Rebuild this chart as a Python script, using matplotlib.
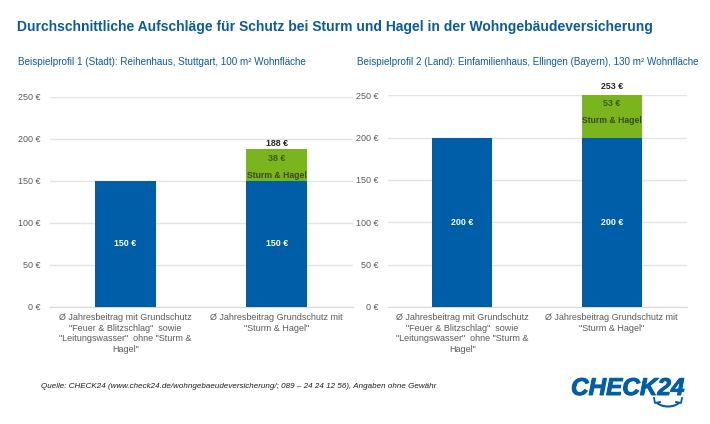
import matplotlib
matplotlib.use("Agg")
import matplotlib.pyplot as plt
import matplotlib.patheffects as pe
import numpy as np
from matplotlib.patches import Arc

plt.rcParams['font.family'] = ['Liberation Sans', 'DejaVu Sans']

W, H = 710, 424
BLUE = '#005EA8'
GREEN = '#7AB51D'
GRID = '#E4E4E4'
GREY = '#595959'
TITLE = '#0B5A9A'

title = 'Durchschnittliche Aufschläge für Schutz bei Sturm und Hagel in der Wohngebäudeversicherung'
sub1 = 'Beispielprofil 1 (Stadt): Reihenhaus, Stuttgart, 100 m² Wohnfläche'
sub2 = 'Beispielprofil 2 (Land): Einfamilienhaus, Ellingen (Bayern), 130 m² Wohnfläche'
source = 'Quelle: CHECK24 (www.check24.de/wohngebaeudeversicherung/; 089 – 24 24 12 56), Angaben ohne Gewähr'
categories = ['Ø Jahresbeitrag mit Grundschutz\n"Feuer & Blitzschlag"  sowie\n"Leitungswasser"  ohne "Sturm &\nHagel"',
              'Ø Jahresbeitrag Grundschutz mit\n"Sturm & Hagel"']
ticks = [0, 50, 100, 150, 200, 250]
base1 = [150, 150]
extra1 = [0, 38]
base2 = [200, 200]
extra2 = [0, 53]
extra_label = 'Sturm & Hagel'


def make_axes(x0, x1, y_top, y_zero):
    return fig.add_axes([x0 / W, 1 - y_zero / H, (x1 - x0) / W, (y_zero - y_top) / H])


def draw(ax, base, extra, total_off, value_off, label_off):
    x = np.arange(len(base))
    ax.bar(x, base, width=0.4, color=BLUE, zorder=3)
    ax.bar(x, extra, bottom=base, width=0.4, color=GREEN, zorder=3)
    ax.set_xlim(-0.5, 1.5)
    ax.set_ylim(0, 250)
    ax.set_yticks(ticks)
    ax.set_yticklabels([f'{t} €' for t in ticks], fontsize=6.5, color=GREY)
    ax.set_xticks(x)
    ax.set_xticklabels(categories, fontsize=6.45, color=GREY, linespacing=1.25)
    ax.tick_params(axis='both', length=0)
    ax.tick_params(axis='y', pad=6.5)
    ax.tick_params(axis='x', pad=4.3)
    ax.grid(axis='y', color=GRID, linewidth=1.0, zorder=0)
    for s in ['top', 'right', 'left']:
        ax.spines[s].set_visible(False)
    ax.spines['bottom'].set_color('#D9D9D9')
    for i, (b, e) in enumerate(zip(base, extra)):
        ax.text(i, b / 2, f'{b} €', color='white', fontsize=6.4, fontweight='bold',
                ha='center', va='center', zorder=4)
        if e:
            ax.text(i, b + e + total_off, f'{b + e} €', color='#262626', fontsize=6.4,
                    fontweight='bold', ha='center', va='bottom', zorder=4)
            ax.text(i, b + value_off, f'{e} €', color='#3F5A1A',
                    fontsize=6.4, fontweight='bold', ha='center', va='center', zorder=4)
            ax.text(i, b + label_off, extra_label, color='#3A4A20', fontsize=6.2,
                    fontweight='bold', ha='center', va='center', zorder=4)


fig = plt.figure(figsize=(W / 100, H / 100), dpi=100, facecolor='white')
ax1 = make_axes(49.5, 352.5, 96.7, 307)
ax2 = make_axes(387.5, 686.5, 95.3, 307)
draw(ax1, base1, extra1, 0.8, 26, 6)
draw(ax2, base2, extra2, 2.5, 40, 20)

fig.text(17 / W, 1 - 26.5 / H, title, fontsize=10.0, fontweight='bold', color=TITLE, va='center')
fig.text(17.5 / W, 1 - 62 / H, sub1, fontsize=7.1, color=TITLE, va='center')
fig.text(357 / W, 1 - 62 / H, sub2, fontsize=7.1, color=TITLE, va='center')
fig.text(41 / W, 1 - 387 / H, source, fontsize=5.8, style='italic', color='#1A1A1A', va='center')

# logo
logo = fig.text(571 / W, 1 - 388.5 / H, 'CHECK24', fontsize=17.5, fontweight='bold', style='italic',
                color=BLUE, va='center', ha='left')
logo.set_path_effects([pe.withStroke(linewidth=0.7, foreground=BLUE)])
ov = fig.add_axes([0, 0, 1, 1], facecolor='none')
ov.set_xlim(0, W)
ov.set_ylim(H, 0)
ov.axis('off')
ov.add_patch(Arc((668, 397), 28, 19, theta1=25, theta2=155, color=BLUE, lw=1.5))
ov.plot([654, 655, 660], [398, 403, 402], color=BLUE, lw=1.3)
ov.plot([676, 681, 682], [402, 403, 398], color=BLUE, lw=1.3)

fig.savefig('out.png', dpi=100)
